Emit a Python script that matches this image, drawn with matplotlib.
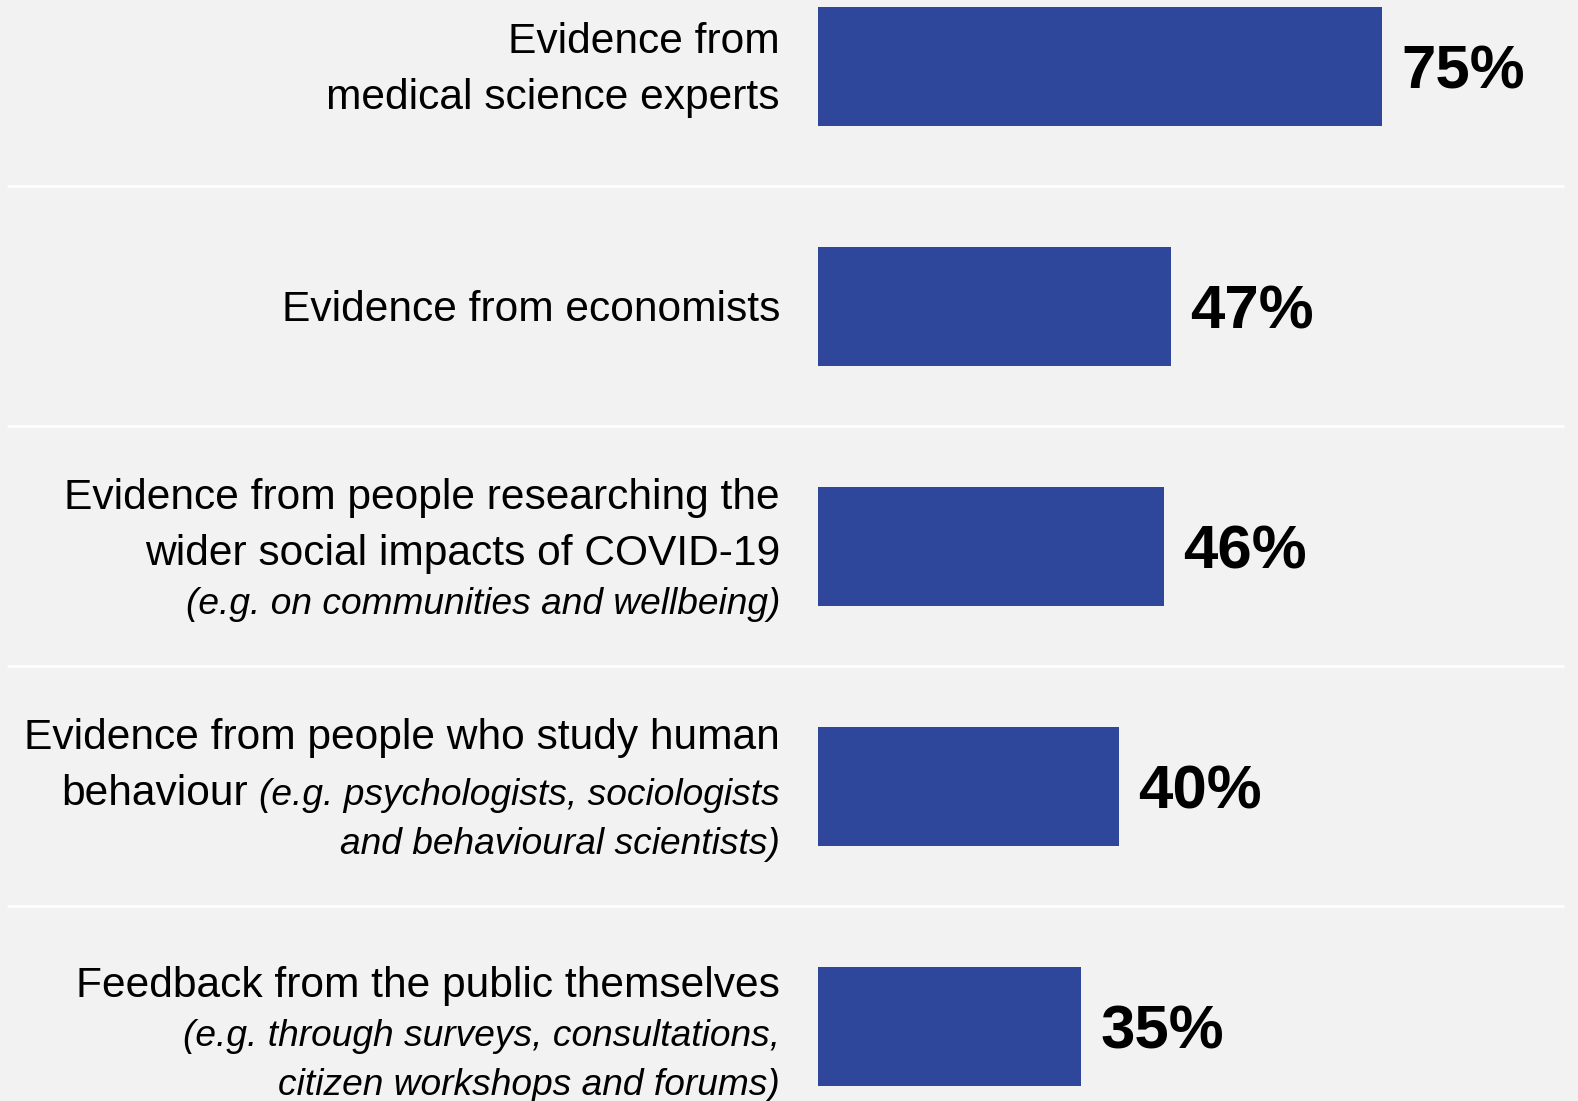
import matplotlib
matplotlib.use('Agg')
import matplotlib.pyplot as plt
from matplotlib.transforms import offset_copy

# data
labels = [
    ["Evidence from", "medical science experts"],
    ["Evidence from economists"],
    ["Evidence from people researching the", "wider social impacts of COVID-19",
     "(e.g. on communities and wellbeing)"],
    ["Evidence from people who study human", "behaviour (e.g. psychologists, sociologists",
     "and behavioural scientists)"],
    ["Feedback from the public themselves", "(e.g. through surveys, consultations,",
     "citizen workshops and forums)"],
]
values = [75, 47, 46, 40, 35]

bg = '#f2f2f2'
bar_color = '#2f479b'
font = 'Liberation Sans'

W, H = 1578, 1101
px_per_pct = 7.52     # horizontal scale
bar_left = 818        # pixel where 0% sits
pitch = 240           # pixels between bar centres
first_centre = 66.4

fig = plt.figure(figsize=(W / 100, H / 100), dpi=100, facecolor=bg)
ax = fig.add_axes([0, 0, 1, 1])
ax.set_facecolor(bg)
ax.axis('off')
ax.set_xlim(-bar_left / px_per_pct, (W - bar_left) / px_per_pct)
ax.set_ylim((H - first_centre) / pitch, -first_centre / pitch)

ypos = list(range(len(values)))
ax.barh(ypos, values, height=119.3 / pitch, color=bar_color)

# white separators between rows
ax.hlines([y + 0.5 for y in ypos[:-1]], (7 - bar_left) / px_per_pct,
          (1564 - bar_left) / px_per_pct, color='white', lw=2)

# value labels
for y, v in zip(ypos, values):
    ax.annotate(f"{v}%", (v, y), xytext=(19, -7), textcoords='offset pixels',
                va='center', ha='left', fontsize=44.5, fontweight='bold',
                family=font, color='black')

# category labels, right aligned, with the bracketed part in italics
renderer = fig.canvas.get_renderer()
label_x = (780 - bar_left) / px_per_pct
reg_size, ital_size = 30.6, 26.7

for y, lines in zip(ypos, labels):
    # split each line into (regular, italic) parts
    parts = []
    in_paren = False
    for line in lines:
        if in_paren:
            parts.append(("", line))
        elif "(" in line:
            k = line.index("(")
            parts.append((line[:k].rstrip(), line[k:]))
            in_paren = True
        else:
            parts.append((line, ""))
        if ")" in line:
            in_paren = False

    # baselines: 56 px before a line starting regular, 49 px before an italic one
    base = [0.0]
    for reg, ital in parts[1:]:
        base.append(base[-1] + (56 if reg else 49))
    shift = 15 - (base[0] + base[-1]) / 2
    if not parts[-2][0] if len(parts) > 2 else False:
        shift += 5   # two italic lines sit a little lower
    base = [b + shift for b in base]

    for (reg, ital), b in zip(parts, base):
        tr = offset_copy(ax.transData, fig=fig, x=0, y=-b, units='dots')
        width = 0
        if ital:
            t = ax.text(label_x, y, ital, transform=tr, ha='right', va='baseline',
                        fontsize=ital_size, style='italic', family=font)
            width = t.get_window_extent(renderer).width + 11
        if reg:
            tr2 = offset_copy(ax.transData, fig=fig, x=-width, y=-b, units='dots')
            ax.text(label_x, y, reg, transform=tr2, ha='right', va='baseline',
                    fontsize=reg_size, family=font)

fig.savefig('out.png', dpi=100, facecolor=bg)
